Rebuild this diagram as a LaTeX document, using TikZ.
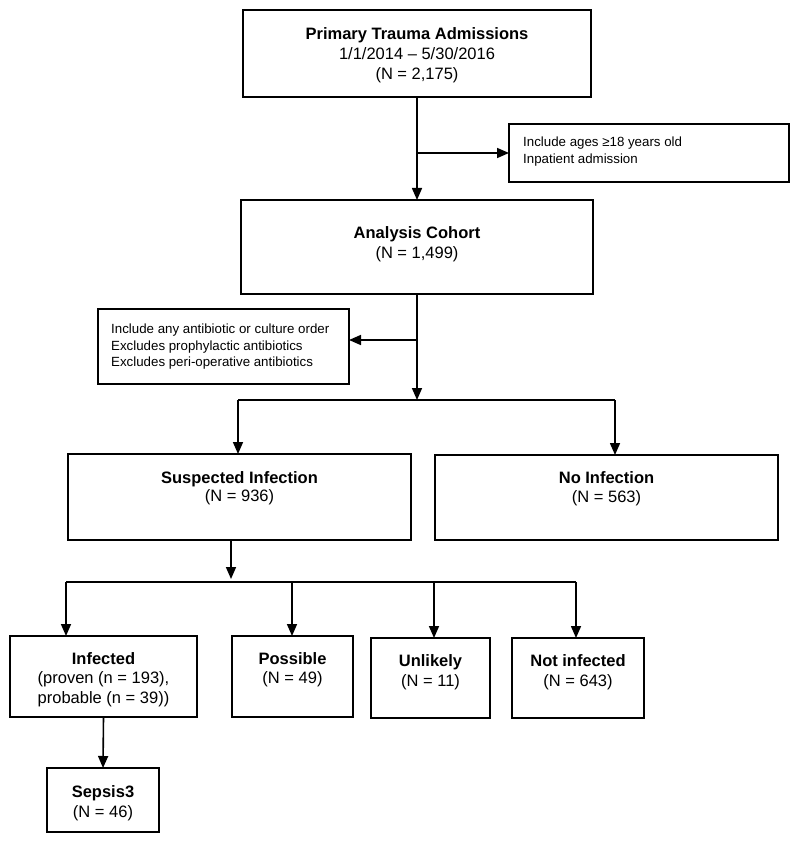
\documentclass[tikz,border=0pt]{standalone}
\usepackage{fontspec}
\setmainfont{Liberation Sans}
\usetikzlibrary{arrows.meta}
\newcommand\flowbox[5]{\node[box, minimum width={(#4-#2)*1pt}, minimum height={(#5-#3)*1pt}] (#1) at (#2,#3) {};}
\begin{document}
\begin{tikzpicture}[x=1pt,y=-1pt,
  box/.style={draw, line width=1.5pt, inner sep=0pt, outer sep=0pt, anchor=north west},
  arr/.style={draw, line width=1.6pt, -{Triangle[length=12pt,width=10pt]}},
  ln/.style={draw, line width=1.6pt},
  main/.style={inner sep=0pt, anchor=north, align=center, font=\fontsize{16.5}{20}\selectfont},
  small/.style={inner sep=0pt, anchor=north west, align=left, font=\fontsize{13.3}{16.5}\selectfont}]
\fill[white] (0,0) rectangle (800,842);
\useasboundingbox (0,0) rectangle (800,842);

% boxes
\flowbox{P}{243}{10}{591}{97}
\flowbox{S1}{509}{124}{789}{182}
\flowbox{A}{241}{200}{593}{294}
\flowbox{L}{98}{309}{349}{384}
\flowbox{SI}{68}{454}{411}{540}
\flowbox{NI}{435}{455}{778}{540}
\flowbox{I}{10}{636}{197}{717}
\flowbox{Po}{232}{636}{353}{717}
\flowbox{U}{371}{638}{490}{718}
\flowbox{NotI}{512}{638}{644}{718}
\flowbox{Se}{47}{768}{159}{832}

% texts
\node[main] (Pt) at (417,27) {\textbf{Primary Trauma Admissions}\\1/1/2014 – 5/30/2016\\(N = 2,175)};
\node[small] (S1t) at (523,137) {Include ages ≥18 years old\\Inpatient admission};
\node[main] (At) at (417,226) {\textbf{Analysis Cohort}\\(N = 1,499)};
\node[small] (Lt) at (111,324) {Include any antibiotic or culture order\\Excludes prophylactic antibiotics\\Excludes peri-operative antibiotics};
\node[main, font=\fontsize{16.5}{18.5}\selectfont] (SIt) at (239.5,471) {\textbf{Suspected Infection}\\(N = 936)};
\node[main, font=\fontsize{16.5}{19}\selectfont] (NIt) at (606.5,471) {\textbf{No Infection}\\(N = 563)};
\node[main, font=\fontsize{16.5}{19.5}\selectfont] (It) at (103.5,652) {\textbf{Infected}\\(proven (n = 193),\\probable (n = 39))};
\node[main, font=\fontsize{16.5}{19.5}\selectfont] (Pot) at (292.5,652) {\textbf{Possible}\\(N = 49)};
\node[main] (Ut) at (430.5,654) {\textbf{Unlikely}\\(N = 11)};
\node[main] (NotIt) at (578,654) {\textbf{Not infected}\\(N = 643)};
\node[main] (Set) at (103,785) {\textbf{Sepsis3}\\(N = 46)};

% connectors
\coordinate (m1) at (417,153);
\draw[arr] (P.south) -- (A.north);
\draw[arr] (m1) -- (S1.west);

\coordinate (m2) at (417,340);
\coordinate (j1) at (417,400);
\coordinate (jl) at (238,400);
\coordinate (jr) at (615,400);
\draw[arr] (A.south) -- (j1);
\draw[arr] (m2) -- (m2 -| L.east);
\draw[ln] (jl) -- (jr);
\draw[arr] (jl) -- (jl |- SI.north);
\draw[arr] (jr) -- (jr |- NI.north);

\coordinate (k0) at (231,540);
\coordinate (k1) at (231,579);
\coordinate (h1) at (66,582);
\coordinate (h2) at (292,582);
\coordinate (h3) at (434,582);
\coordinate (h4) at (576,582);
\draw[arr] (k0) -- (k1);
\draw[ln] (h1) -- (h4);
\draw[arr] (h1) -- (h1 |- I.north);
\draw[arr] (h2) -- (h2 |- Po.north);
\draw[arr] (h3) -- (h3 |- U.north);
\draw[arr] (h4) -- (h4 |- NotI.north);
\draw[arr] (I.south) -- (Se.north);
\end{tikzpicture}
\end{document}
